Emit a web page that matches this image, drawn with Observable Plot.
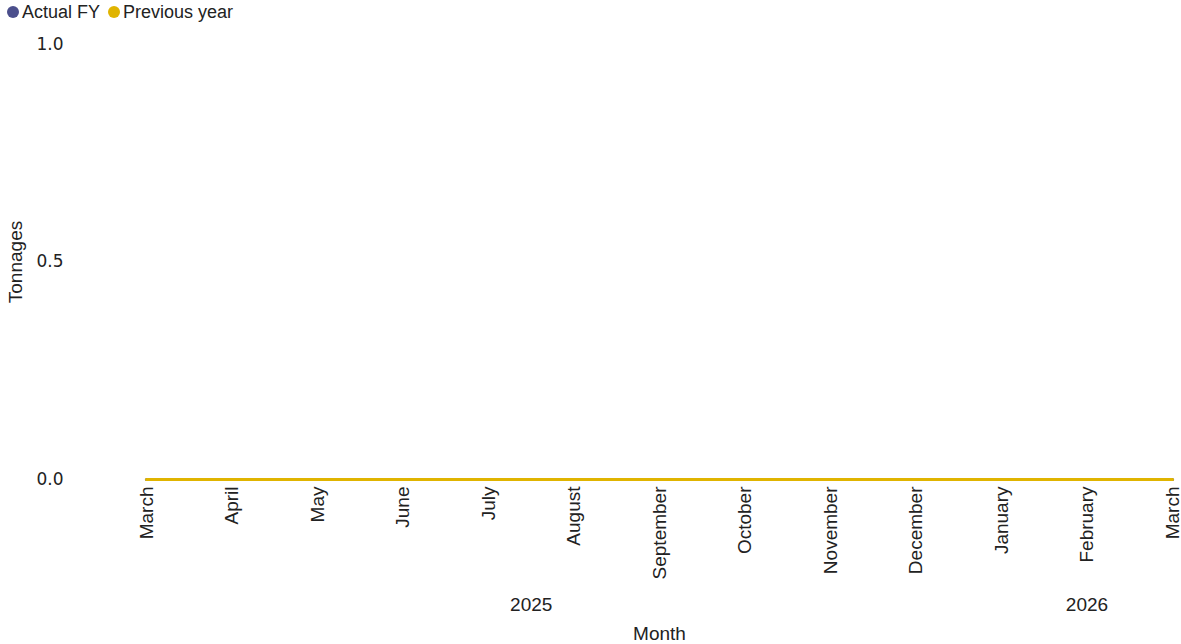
<!DOCTYPE html>
<html>
<head>
<meta charset="utf-8">
<script src="https://cdn.jsdelivr.net/npm/d3@7"></script>
<script src="https://cdn.jsdelivr.net/npm/@observablehq/plot@0.6"></script>
<style>
  html, body { margin: 0; padding: 0; background: #fff; }
  #legend {
    display: flex; align-items: center; height: 24px;
    font-family: "Liberation Sans", Arial, sans-serif; font-size: 18px; color: #222;
    padding-left: 7px;
  }
  .item { display: flex; align-items: center; margin-right: 8px; }
  .dot { width: 12px; height: 12px; border-radius: 50%; margin-right: 3px; }
</style>
</head>
<body>
<div id="legend"></div>
<div id="chart"></div>
<script>
// Fiscal-year months, March to March
const months = ["2025-03", "2025-04", "2025-05", "2025-06", "2025-07", "2025-08", "2025-09",
                "2025-10", "2025-11", "2025-12", "2026-01", "2026-02", "2026-03"];
const monthNames = ["March", "April", "May", "June", "July", "August", "September",
                    "October", "November", "December", "January", "February", "March"];
const actualFY = [0, 0, 0, 0, 0, 0, 0, 0, 0, 0, 0, 0, 0];
const previousYear = [0, 0, 0, 0, 0, 0, 0, 0, 0, 0, 0, 0, 0];
const yTicks = [0, 0.5, 1];
const seriesNames = ["Actual FY", "Previous year"];
const seriesColors = ["#4b4f8c", "#e0b400"];

const rows = months.flatMap((m, i) => [
  {i, month: m, series: seriesNames[0], value: actualFY[i]},
  {i, month: m, series: seriesNames[1], value: previousYear[i]}
]);

// Year labels centred under their months
const years = d3.rollups(months.map((m, i) => ({year: m.slice(0, 4), i})), v => d3.mean(v, d => d.i), d => d.year)
  .map(([year, i]) => ({year, i}));

const legend = document.getElementById("legend");
seriesNames.forEach((s, k) => {
  const item = document.createElement("div");
  item.className = "item";
  item.innerHTML = `<span class="dot" style="background:${seriesColors[k]}"></span><span>${s}</span>`;
  legend.appendChild(item);
});

const axisFont = "'Liberation Sans', Arial, sans-serif";

const chart = Plot.plot({
  width: 1181,
  height: 620,
  marginTop: 20,
  marginBottom: 165,
  marginLeft: 146,
  marginRight: 9,
  style: {fontFamily: axisFont, fontSize: "19px", color: "#222", background: "#fff", overflow: "visible"},
  x: {type: "linear", domain: [0, months.length - 1]},
  y: {domain: [0, 1]},
  color: {domain: seriesNames, range: seriesColors},
  marks: [
    Plot.axisY({ticks: yTicks, tickFormat: d3.format(".1f"), tickSize: 0, tickPadding: 83,
                fontFamily: "'DejaVu Sans', sans-serif", fontSize: 17, label: null}),
    Plot.axisX({ticks: d3.range(months.length), tickFormat: i => monthNames[i], tickSize: 0,
                tickRotate: -90, tickPadding: 7, label: null}),
    Plot.line(rows, {x: "i", y: "value", z: "series", stroke: "series", strokeWidth: 3}),
    Plot.text(years, {x: "i", text: "year", frameAnchor: "bottom", dy: 131}),
    Plot.text(["Month"], {frameAnchor: "bottom", dy: 160}),
    Plot.text(["Tonnages"], {frameAnchor: "left", textAnchor: "middle", dx: -131, rotate: -90})
  ]
});
document.getElementById("chart").appendChild(chart);
</script>
</body>
</html>
